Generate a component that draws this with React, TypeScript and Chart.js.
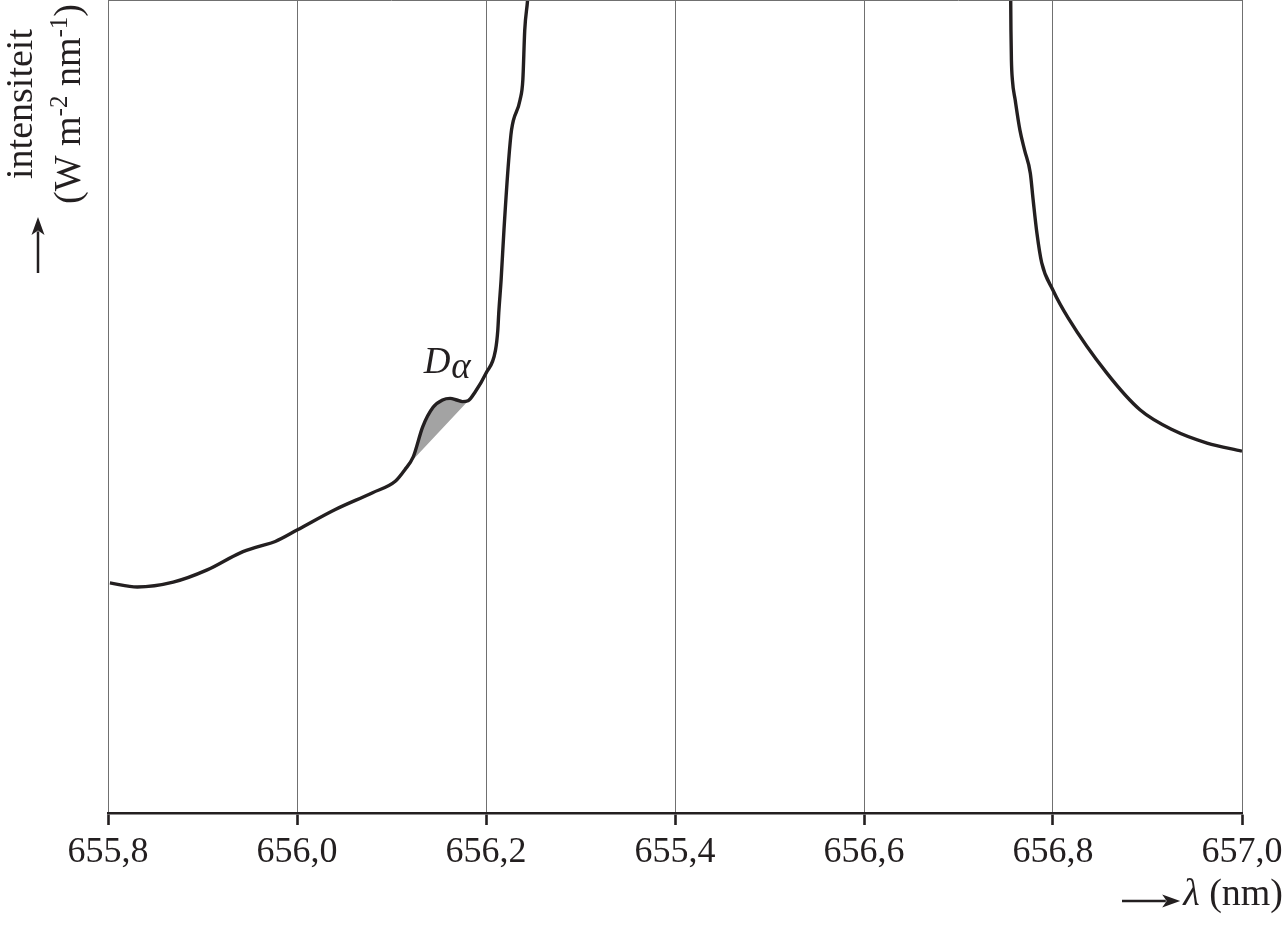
import React, { useEffect, useRef } from "react";
import { Chart, registerables } from "chart.js";

Chart.register(...registerables);

// Wavelength (nm) and intensity (arbitrary units, 0-100 scale)
const LEFT_WAVELENGTH = [
  655.802, 655.831, 655.869, 655.905, 655.94, 655.96, 655.977, 656.0,
  656.04, 656.08, 656.104, 656.114, 656.123, 656.133, 656.144, 656.154, 656.162,
  656.169, 656.175, 656.181, 656.188, 656.2, 656.21, 656.2125, 656.2135, 656.216,
  656.219, 656.224, 656.227, 656.236, 656.239, 656.241, 656.244, 656.246,
];
const LEFT_INTENSITY = [
  28.3, 27.8, 28.4, 29.9, 32.0, 32.8, 33.4, 34.8,
  37.3, 39.4, 40.8, 42.2, 43.8, 47.5, 49.9, 50.8, 51.0,
  50.8, 50.6, 50.7, 51.7, 54.1, 56.9, 59.4, 61.5, 65.6,
  71.7, 80.3, 84.0, 87.7, 90.2, 96.3, 100.0, 103.7,
];
const RIGHT_WAVELENGTH = [
  656.755, 656.7555, 656.756, 656.757, 656.76, 656.765, 656.77, 656.776, 656.779,
  656.783, 656.788, 656.8, 656.816, 656.857, 656.892, 656.927, 656.963, 657.0,
];
const RIGHT_INTENSITY = [
  103.7, 96.3, 92.6, 90.2, 87.7, 84.0, 81.5, 78.7, 75.4,
  71.3, 67.7, 64.3, 60.9, 54.1, 49.6, 47.1, 45.5, 44.5,
];
// D-alpha absorption bump and its chord (shaded area)
const BUMP_WAVELENGTH = [656.119, 656.123, 656.133, 656.144, 656.154, 656.162, 656.169, 656.175, 656.182];
const BUMP_INTENSITY = [43.0, 43.8, 47.5, 49.9, 50.8, 51.0, 50.8, 50.6, 50.8];
const CHORD_WAVELENGTH = [656.119, 656.182];
const CHORD_INTENSITY = [43.0, 50.8];

const TICK_VALUES = [655.8, 656.0, 656.2, 656.4, 656.6, 656.8, 657.0];
const TICK_LABELS = ["655,8", "656,0", "656,2", "655,4", "656,6", "656,8", "657,0"];

const X_MIN = 655.8;
const X_MAX = 657.0;
const Y_MIN = 0;
const Y_MAX = 100;

const DALPHA_X = 656.134;
const DALPHA_Y = 54.1;

const INK = "#231f20";
const FONT = "'Liberation Serif', 'Times New Roman', serif";

const toPts = (xs: number[], ys: number[]) => xs.map((x, i) => ({ x, y: ys[i] }));

function arrow(ctx: CanvasRenderingContext2D, x1: number, y1: number, x2: number, y2: number) {
  const ang = Math.atan2(y2 - y1, x2 - x1);
  const headLen = 18;
  const headW = 6.5;
  ctx.save();
  ctx.strokeStyle = INK;
  ctx.fillStyle = INK;
  ctx.lineWidth = 2.5;
  ctx.beginPath();
  ctx.moveTo(x1, y1);
  ctx.lineTo(x2 - Math.cos(ang) * headLen * 0.8, y2 - Math.sin(ang) * headLen * 0.8);
  ctx.stroke();
  ctx.translate(x2, y2);
  ctx.rotate(ang);
  ctx.beginPath();
  ctx.moveTo(0, 0);
  ctx.lineTo(-headLen, -headW);
  ctx.lineTo(-headLen * 0.75, 0);
  ctx.lineTo(-headLen, headW);
  ctx.closePath();
  ctx.fill();
  ctx.restore();
}

const annotations = {
  id: "annotations",
  afterDraw(chart: any) {
    const ctx: CanvasRenderingContext2D = chart.ctx;
    const { chartArea, scales } = chart;
    ctx.save();
    // top border
    ctx.strokeStyle = "#707070";
    ctx.lineWidth = 1;
    ctx.beginPath();
    ctx.moveTo(chartArea.left, chartArea.top + 0.5);
    ctx.lineTo(chartArea.right, chartArea.top + 0.5);
    ctx.stroke();

    ctx.fillStyle = INK;
    // D alpha label
    const dx = scales.x.getPixelForValue(DALPHA_X);
    const dy = scales.y.getPixelForValue(DALPHA_Y);
    ctx.font = `italic 37px ${FONT}`;
    ctx.textAlign = "left";
    ctx.textBaseline = "alphabetic";
    ctx.fillText("D", dx, dy);
    const dw = ctx.measureText("D").width;
    ctx.fillText("\u03b1", dx + dw + 1, dy + 5);

    // x title
    ctx.font = `38px ${FONT}`;
    ctx.textAlign = "right";
    const rest = " (nm)";
    ctx.fillText(rest, 1283, 905);
    const rw = ctx.measureText(rest).width;
    ctx.font = `italic 38px ${FONT}`;
    ctx.fillText("\u03bb", 1283 - rw, 905);
    const lw = ctx.measureText("\u03bb").width;
    arrow(ctx, 1122, 901, 1283 - rw - lw - 3, 901);

    // y title (rotated)
    ctx.save();
    ctx.translate(32, 104);
    ctx.rotate(-Math.PI / 2);
    ctx.font = `38px ${FONT}`;
    ctx.textAlign = "center";
    ctx.fillText("intensiteit", 0, 0);
    ctx.restore();

    ctx.save();
    ctx.translate(80, 104);
    ctx.rotate(-Math.PI / 2);
    const parts: [string, boolean][] = [
      ["(W m", false],
      ["-2", true],
      [" nm", false],
      ["-1", true],
      [")", false],
    ];
    const big = `38px ${FONT}`;
    const small = `25px ${FONT}`;
    let total = 0;
    for (const [t, sup] of parts) {
      ctx.font = sup ? small : big;
      total += ctx.measureText(t).width;
    }
    let cx = -total / 2;
    ctx.textAlign = "left";
    for (const [t, sup] of parts) {
      ctx.font = sup ? small : big;
      ctx.fillText(t, cx, sup ? -13 : 0);
      cx += ctx.measureText(t).width;
    }
    ctx.restore();

    arrow(ctx, 38, 273, 38, 217);
    ctx.restore();
  },
};

export default function App() {
  const ref = useRef<HTMLCanvasElement | null>(null);
  useEffect(() => {
    if (!ref.current) return;
    const lineBase = {
      showLine: true,
      pointRadius: 0,
      cubicInterpolationMode: "monotone",
    };
    const chart = new Chart(ref.current, {
      type: "scatter",
      data: {
        datasets: [
          {
            ...lineBase,
            data: toPts(LEFT_WAVELENGTH, LEFT_INTENSITY),
            borderColor: INK,
            borderWidth: 3.4,
            fill: false,
          },
          {
            ...lineBase,
            data: toPts(RIGHT_WAVELENGTH, RIGHT_INTENSITY),
            borderColor: INK,
            borderWidth: 3.4,
            fill: false,
          },
          {
            showLine: true,
            pointRadius: 0,
            tension: 0,
            data: toPts(CHORD_WAVELENGTH, CHORD_INTENSITY),
            borderWidth: 0,
            borderColor: "rgba(0,0,0,0)",
            fill: false,
          },
          {
            ...lineBase,
            data: toPts(BUMP_WAVELENGTH, BUMP_INTENSITY),
            borderWidth: 0,
            borderColor: "rgba(0,0,0,0)",
            backgroundColor: "#a3a3a3",
            fill: 2,
          },
        ],
      } as any,
      options: {
        responsive: false,
        animation: false,
        devicePixelRatio: 1,
        layout: { padding: { left: 108, right: 42, top: 0, bottom: 0 } },
        plugins: {
          legend: { display: false },
          tooltip: { enabled: false },
        },
        scales: {
          x: {
            type: "linear",
            min: X_MIN,
            max: X_MAX,
            afterBuildTicks: (scale: any) => {
              scale.ticks = TICK_VALUES.map((v) => ({ value: v }));
            },
            afterFit: (scale: any) => {
              scale.height = 112;
              scale.paddingLeft = 0;
              scale.paddingRight = 0;
            },
            ticks: {
              autoSkip: false,
              maxRotation: 0,
              padding: 6,
              color: INK,
              font: { family: FONT, size: 36 },
              callback: (_v: any, i: number) => TICK_LABELS[i],
            },
            grid: {
              color: "#707070",
              lineWidth: 1,
              tickColor: INK,
              tickWidth: 2.6,
              tickLength: 12,
            },
            border: { display: true, color: INK, width: 2.6 },
          },
          y: {
            type: "linear",
            min: Y_MIN,
            max: Y_MAX,
            display: false,
          },
        },
      } as any,
      plugins: [annotations],
    });
    return () => chart.destroy();
  }, []);
  return (
    <div style={{ position: "absolute", left: 0, top: 0, width: 1284, height: 925, background: "#fff" }}>
      <canvas ref={ref} width={1284} height={925} />
    </div>
  );
}
